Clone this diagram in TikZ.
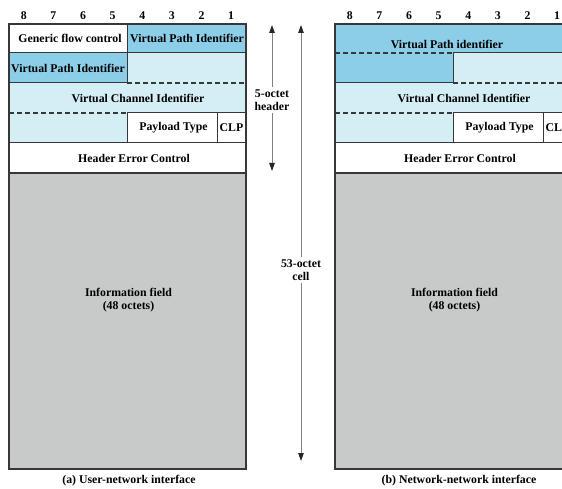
\documentclass[tikz,border=0pt]{standalone}
\usepackage{fontspec}
\setmainfont{Liberation Serif}
\usetikzlibrary{arrows.meta}
\definecolor{vpblue}{RGB}{140,206,232}
\definecolor{chblue}{RGB}{212,238,245}
\definecolor{infogray}{RGB}{200,201,201}
\definecolor{linegray}{RGB}{55,55,55}
\begin{document}
\begin{tikzpicture}[x=1pt,y=-1pt]
	\tikzstyle{field}=[font=\bfseries\fontsize{11.8}{12.5}\selectfont,inner sep=1pt,align=center]
	\tikzstyle{bitnum}=[font=\bfseries\fontsize{11.8}{12.5}\selectfont,inner sep=1pt]
	\tikzstyle{outline}=[draw=linegray,line width=1.4pt]
	\tikzstyle{rule}=[draw=linegray,line width=1pt]
	\tikzstyle{dashrule}=[draw=linegray,line width=1.1pt,dash pattern=on 5pt off 3pt]
	\tikzstyle{span}=[draw=gray,line width=0.9pt,-{Triangle[length=8pt,width=5.5pt,color=black!85]}]
	\clip (0,0) rectangle (562,489);
	% (a) user-network interface
	\fill[vpblue] (127,24) rectangle (246,53) (9,53) rectangle (127,83);
	\fill[chblue] (127,53) rectangle (246,113) (9,83) rectangle (127,143);
	\fill[infogray] (9,173) rectangle (246,469);
	\draw[rule] (127,24) -- (127,83) (9,53) -- (246,53) (9,83) -- (127,83) (127,113) -- (246,113)
		(127,113) -- (127,143) (217,113) -- (217,143) (9,143) -- (246,143);
	\draw[dashrule] (127,83) -- (246,83) (9,113) -- (127,113);
	\draw[outline] (9,173) -- (246,173) (9,24) rectangle (246,469);
	\foreach \b in {1,...,8} \node[bitnum] (bit_a\b) at ({246-29.625*(\b-0.5)},16) {\b};
	\node[field] (gfc_a) at (70,38) {Generic flow control};
	\node[field] (vpi_a1) at (187,38) {Virtual Path Identifier};
	\node[field] (vpi_a2) at (68,68) {Virtual Path Identifier};
	\node[field] (vci_a) at (138,98) {Virtual Channel Identifier};
	\node[field] (pt_a) at (173.5,128) {Payload Type};
	\node[field] (clp_a) at (231.5,128) {CLP};
	\node[field] (hec_a) at (134,158) {Header Error Control};
	\node[field] (info_a) at (128.5,300) {Information field\\(48 octets)};
	\node[field] (cap_a) at (129,481) {(a) User-network interface};
	% (b) network-network interface
	\begin{scope}[xshift=326pt]
		\fill[vpblue] (9,24) rectangle (246,53) (9,53) rectangle (127,83);
		\fill[chblue] (127,53) rectangle (246,113) (9,83) rectangle (127,143);
		\fill[infogray] (9,173) rectangle (246,469);
		\draw[rule] (127,53) -- (246,53) (127,53) -- (127,83) (9,83) -- (127,83) (127,113) -- (246,113)
			(127,113) -- (127,143) (217,113) -- (217,143) (9,143) -- (246,143);
		\draw[dashrule] (9,53) -- (127,53) (127,83) -- (246,83) (9,113) -- (127,113);
		\draw[outline] (9,173) -- (246,173) (9,24) rectangle (246,469);
		\foreach \b in {1,...,8} \node[bitnum] (bit_b\b) at ({246-29.625*(\b-0.5)},16) {\b};
		\node[field] (vpi_b) at (121,44) {Virtual Path identifier};
		\node[field] (vci_b) at (138,98) {Virtual Channel Identifier};
		\node[field] (pt_b) at (173.5,128) {Payload Type};
		\node[field] (clp_b) at (231.5,128) {CLP};
		\node[field] (hec_b) at (134,158) {Header Error Control};
		\node[field] (info_b) at (128.5,300) {Information field\\(48 octets)};
		\node[field] (cap_b) at (133,481) {(b) Network-network interface};
	\end{scope}
	% octet spans
	\node[field,inner sep=3pt] (hdr) at (272,100) {5-octet\\header};
	\coordinate (hdr_top) at (272,25);
	\coordinate (hdr_bot) at (272,171);
	\node[field,inner sep=3pt] (cell) at (301,270) {53-octet\\cell};
	\coordinate (cell_top) at (301,25);
	\coordinate (cell_bot) at (301,461);
	\draw[span] (hdr) -- (hdr_top);
	\draw[span] (hdr) -- (hdr_bot);
	\draw[span] (cell) -- (cell_top);
	\draw[span] (cell) -- (cell_bot);
\end{tikzpicture}
\end{document}
